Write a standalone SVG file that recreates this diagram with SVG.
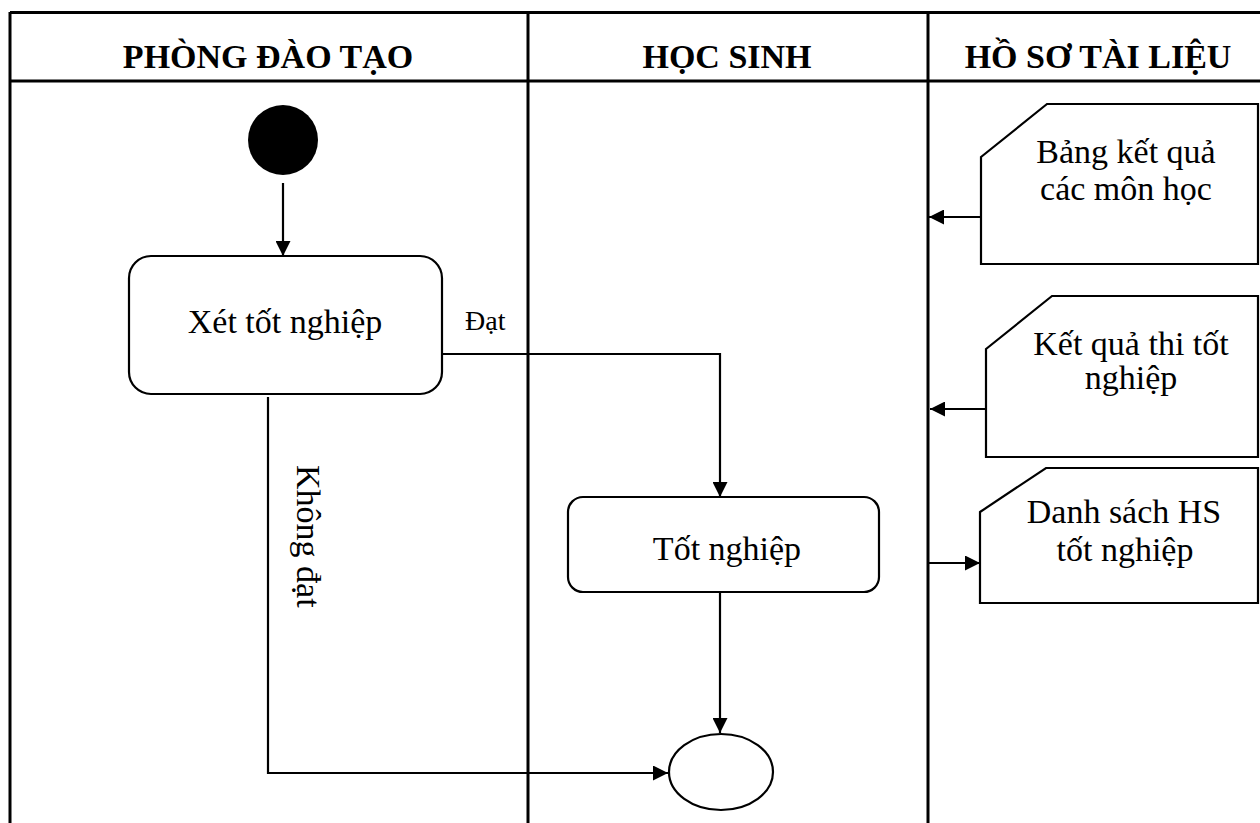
<svg xmlns="http://www.w3.org/2000/svg" width="1260" height="823" viewBox="0 0 1260 823">
<style>
text{font-family:"Liberation Serif","Times New Roman",serif;fill:#000}
.hd{font-size:34px;font-weight:bold;text-anchor:middle}
.lb{font-size:34px;text-anchor:middle}
.sm{font-size:28px}
.grid{stroke:#000;stroke-width:3;fill:none}
.box{fill:#fff;stroke:#000;stroke-width:2.2}
.cn{stroke:#000;stroke-width:2.2;fill:none}
</style>
<defs>
<marker id="ah" viewBox="0 0 10 10" refX="10" refY="5" markerWidth="15" markerHeight="15" markerUnits="userSpaceOnUse" orient="auto">
<path d="M0,0 L10,5 L0,10 Z" fill="#000"/>
</marker>
</defs>
<rect width="1260" height="823" fill="#fff"/>
<g id="lanes">
<path class="grid" d="M10,12.5 H1262 M10,81 H1262 M10,12 V825 M528,12 V825 M928,12 V825"/>
<text class="hd" x="268" y="68">PHÒNG ĐÀO TẠO</text>
<text class="hd" x="727" y="68">HỌC SINH</text>
<text class="hd" x="1098" y="68">HỒ SƠ TÀI LIỆU</text>
</g>
<g id="connectors">
<line class="cn" x1="283" y1="183" x2="283" y2="256" marker-end="url(#ah)"/>
<polyline class="cn" points="442,354 720,354 720,497" marker-end="url(#ah)"/>
<polyline class="cn" points="268,397 268,773 668,773" marker-end="url(#ah)"/>
<line class="cn" x1="720" y1="593" x2="720" y2="733" marker-end="url(#ah)"/>
<line class="cn" x1="981" y1="217" x2="929" y2="217" marker-end="url(#ah)"/>
<line class="cn" x1="986" y1="409" x2="930" y2="409" marker-end="url(#ah)"/>
<line class="cn" x1="928" y1="563" x2="980" y2="563" marker-end="url(#ah)"/>
<text class="sm" x="465" y="330">Đạt</text>
<text class="lb" transform="translate(297,465) rotate(90)" style="text-anchor:start">Không đạt</text>
</g>
<g id="start">
<circle cx="283" cy="140" r="35" fill="#000"/>
</g>
<g id="xet-tot-nghiep">
<rect class="box" x="129" y="256" width="313" height="138" rx="22"/>
<text class="lb" x="285" y="333">Xét tốt nghiệp</text>
</g>
<g id="tot-nghiep">
<rect class="box" x="568" y="497" width="311" height="95" rx="15"/>
<text class="lb" x="727" y="560">Tốt nghiệp</text>
</g>
<g id="end">
<ellipse class="box" cx="721" cy="772" rx="52" ry="38"/>
</g>
<g id="doc-bang-ket-qua">
<path class="box" d="M981,157 L1047,104 L1258,104 L1258,264 L981,264 Z"/>
<text class="lb" x="1126" y="163">Bảng kết quả</text>
<text class="lb" x="1126" y="200">các môn học</text>
</g>
<g id="doc-ket-qua-thi">
<path class="box" d="M986,349 L1052,296 L1258,296 L1258,457 L986,457 Z"/>
<text class="lb" x="1131" y="355">Kết quả thi tốt</text>
<text class="lb" x="1131" y="389">nghiệp</text>
</g>
<g id="doc-danh-sach">
<path class="box" d="M980,512 L1046,468 L1258,468 L1258,603 L980,603 Z"/>
<text class="lb" x="1124" y="523">Danh sách HS</text>
<text class="lb" x="1125" y="561">tốt nghiệp</text>
</g>
</svg>
